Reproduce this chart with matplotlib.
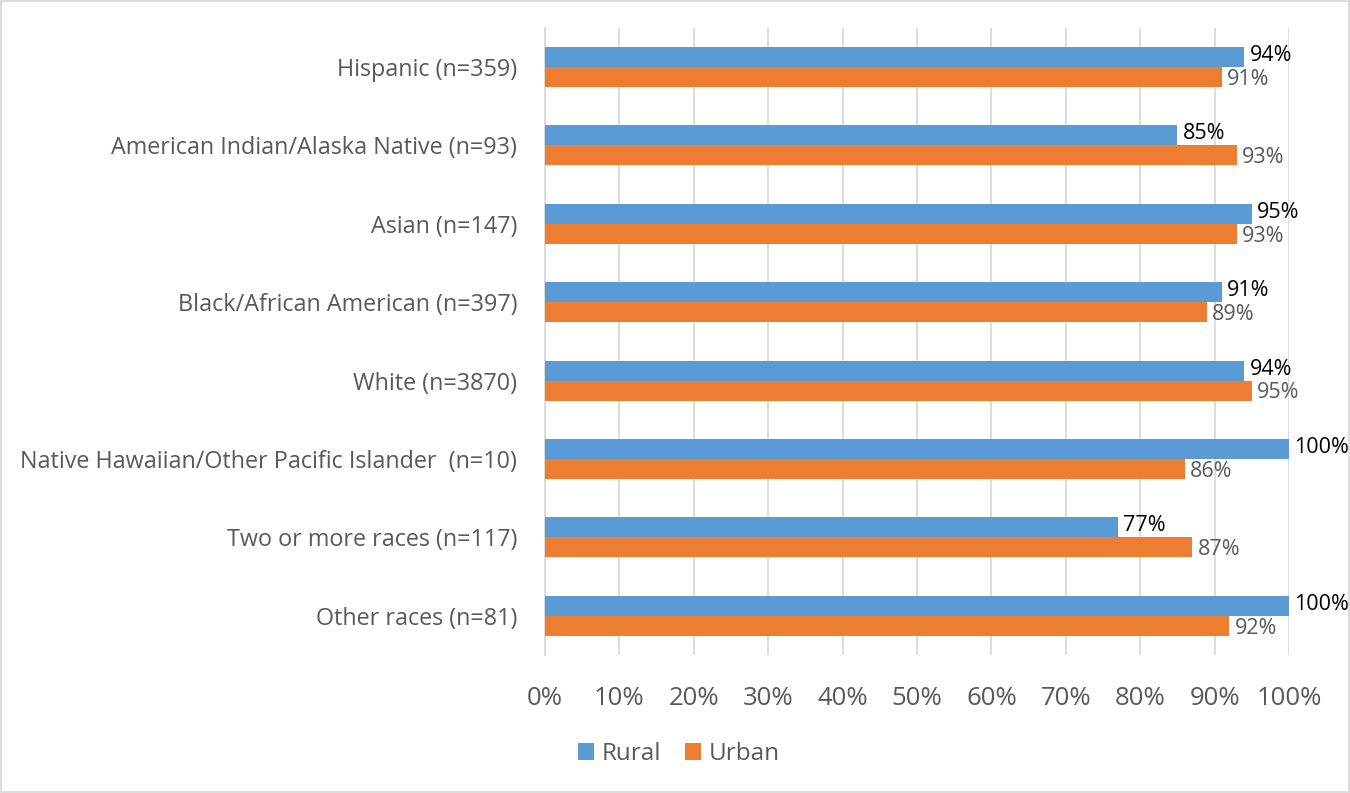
import numpy as np
import matplotlib.pyplot as plt
from matplotlib.patches import Rectangle

plt.rcParams['font.family'] = ['Open Sans', 'DejaVu Sans']

categories = ["Hispanic (n=359)",
              "American Indian/Alaska Native (n=93)",
              "Asian (n=147)",
              "Black/African American (n=397)",
              "White (n=3870)",
              "Native Hawaiian/Other Pacific Islander  (n=10)",
              "Two or more races (n=117)",
              "Other races (n=81)"]
rural = [94, 85, 95, 91, 94, 100, 77, 100]
urban = [91, 93, 93, 89, 95, 86, 87, 92]

blue = "#5B9BD5"
orange = "#ED7D31"
grey = "#595959"

fig = plt.figure(figsize=(13.5, 7.93), dpi=100)
ax = fig.add_axes([0.4037, 0.174, 0.5511, 0.791])

y = np.arange(len(categories))
h = 0.255
ax.barh(y - h / 2, rural, height=h, color=blue, label="Rural", zorder=3)
ax.barh(y + h / 2, urban, height=h, color=orange, label="Urban", zorder=3)

# value labels just past the bar ends, nudged apart a little vertically
for i in range(len(categories)):
    ax.text(rural[i] + 0.7, y[i] - h / 2 - 0.02, f"{rural[i]}%", va="center", ha="left",
            fontsize=15.5, color="black", zorder=4)
    ax.text(urban[i] + 0.7, y[i] + h / 2 + 0.03, f"{urban[i]}%", va="center", ha="left",
            fontsize=15.5, color=grey, zorder=4)

ax.set_xlim(0, 100)
ax.set_ylim(len(categories) - 0.5, -0.5)
ax.set_xticks(np.arange(0, 101, 10))
ax.set_xticklabels([f"{t}%" for t in range(0, 101, 10)])
ax.set_yticks(y)
ax.set_yticklabels(categories)
ax.tick_params(axis="x", length=0, pad=22, labelsize=18.5, labelcolor=grey)
ax.tick_params(axis="y", length=0, pad=20, labelsize=16.8, labelcolor=grey)
ax.grid(axis="x", color="#D9D9D9", linewidth=1.3, zorder=0)
for s in ["top", "right", "bottom"]:
    ax.spines[s].set_visible(False)
ax.spines["left"].set_color("#D9D9D9")
ax.spines["left"].set_linewidth(1.3)

fig.legend(loc="center", bbox_to_anchor=(0.503, 0.049), ncol=2, frameon=False,
           fontsize=17.5, labelcolor=grey, handlelength=0.65, handleheight=0.65,
           handletextpad=0.3, columnspacing=1.0)

fig.patches.append(Rectangle((0.001, 0.001), 0.998, 0.998, transform=fig.transFigure,
                             fill=False, edgecolor="#D9D9D9", linewidth=1.3))

fig.savefig("out.png", dpi=100)
